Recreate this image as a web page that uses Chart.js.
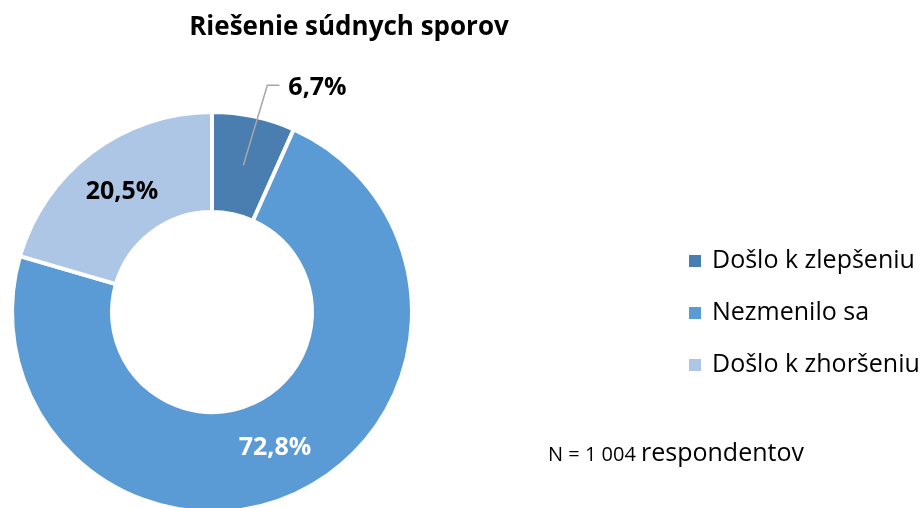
<!DOCTYPE html>
<html>
<head>
<meta charset="utf-8">
<title>Riešenie súdnych sporov</title>
<script src="https://cdn.jsdelivr.net/npm/chart.js@4"></script>
<style>
  html, body { margin: 0; padding: 0; background: #fff; overflow: hidden; }
  #wrap { position: relative; width: 922px; height: 520px; }
</style>
</head>
<body>
<div id="wrap"><canvas id="chart" width="922" height="520"></canvas></div>
<script>
// Data
const categories = ["Došlo k zlepšeniu", "Nezmenilo sa", "Došlo k zhoršeniu"];
const shares = [6.7, 72.8, 20.5];
const sliceColors = ["#4a7eb1", "#5b9bd5", "#adc6e6"];
const labelColors = ["#000000", "#ffffff", "#000000"];
const chartTitle = "Riešenie súdnych sporov";
const noteSmall = "N = 1 004";
const noteLarge = "respondentov";

const FONT = "'Open Sans', 'Noto Sans', sans-serif";

function formatShare(v) {
  return v.toFixed(1).replace(".", ",") + "%";
}

document.addEventListener("DOMContentLoaded", () => {
  const ctx = document.getElementById("chart");

  // title, legend, note and slice labels drawn by hand
  const decorations = {
    id: "decorations",
    afterDraw(chart) {
      const c = chart.ctx;
      const meta = chart.getDatasetMeta(0);
      c.save();

      // 1) title
      c.fillStyle = "#000";
      c.font = "bold 26px " + FONT;
      c.textAlign = "center";
      c.textBaseline = "middle";
      c.fillText(chartTitle, 349, 28);

      // 2) slice labels
      c.font = "bold 25px " + FONT;
      meta.data.forEach((arc, i) => {
        const p = arc.getCenterPoint();
        const text = formatShare(shares[i]);
        if (i === 0) {
          // small slice: label outside with a leader line
          c.strokeStyle = "#a6a6a6";
          c.lineWidth = 1.5;
          c.beginPath();
          c.moveTo(p.x, p.y);
          c.lineTo(p.x + 24, p.y - 80);
          c.lineTo(p.x + 36, p.y - 80);
          c.stroke();
          c.fillStyle = labelColors[i];
          c.textAlign = "left";
          c.fillText(text, p.x + 45, p.y - 77);
        } else {
          c.fillStyle = labelColors[i];
          c.textAlign = "center";
          c.fillText(text, p.x, p.y);
        }
      });

      // 3) legend
      c.font = "25px " + FONT;
      c.textAlign = "left";
      categories.forEach((name, i) => {
        const y = 261 + i * 52;
        c.fillStyle = sliceColors[i];
        c.fillRect(689, y - 6, 12, 12);
        c.fillStyle = "#000";
        c.fillText(name, 712, y);
      });

      // 4) note
      c.textBaseline = "alphabetic";
      c.font = "20px " + FONT;
      c.fillText(noteSmall, 548, 461);
      const w = c.measureText(noteSmall + " ").width;
      c.font = "25px " + FONT;
      c.fillText(noteLarge, 548 + w, 461);

      c.restore();
    },
  };

  new Chart(ctx, {
    type: "doughnut",
    data: {
      labels: categories,
      datasets: [
        {
          data: shares,
          backgroundColor: sliceColors,
          borderColor: "#ffffff",
          borderWidth: 4,
          hoverOffset: 0,
        },
      ],
    },
    options: {
      responsive: false,
      animation: false,
      cutout: "50%",
      layout: {
        padding: { left: 10, right: 508, top: 110, bottom: 6 },
      },
      plugins: {
        legend: { display: false },
        tooltip: { enabled: false },
      },
    },
    plugins: [decorations],
  });
});
</script>
</body>
</html>
